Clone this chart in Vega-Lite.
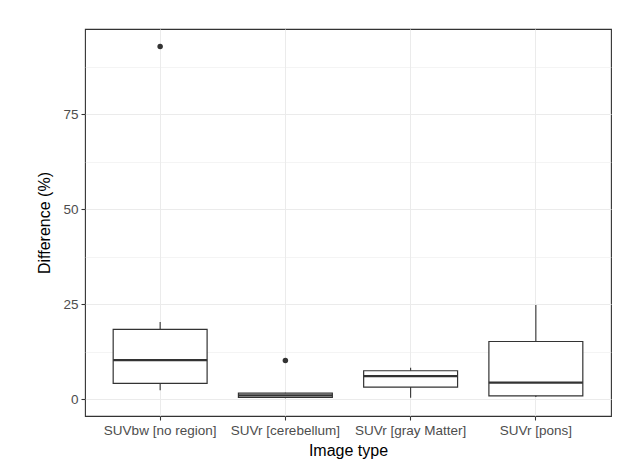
{
  "$schema": "https://vega.github.io/schema/vega-lite/v6.json",
  "autosize": "none",
  "padding": {"left": 85, "top": 29, "right": 13, "bottom": 45},
  "width": 526,
  "height": 387,
  "background": "white",
  "datasets": {
    "boxes": [
      {"type": "SUVbw [no region]", "lower": 2.4, "q1": 4.2, "median": 10.3, "q3": 18.4, "upper": 20.3},
      {"type": "SUVr [cerebellum]", "lower": 0.3, "q1": 0.5, "median": 1.0, "q3": 1.6, "upper": 1.7},
      {"type": "SUVr [gray Matter]", "lower": 0.4, "q1": 3.2, "median": 6.1, "q3": 7.5, "upper": 8.3},
      {"type": "SUVr [pons]", "lower": 0.6, "q1": 0.9, "median": 4.4, "q3": 15.2, "upper": 24.8}
    ],
    "outliers": [
      {"type": "SUVbw [no region]", "value": 92.8},
      {"type": "SUVr [cerebellum]", "value": 10.2}
    ]
  },
  "encoding": {
    "x": {
      "field": "type", "type": "nominal", "sort": null,
      "scale": {"domain": ["SUVbw [no region]", "SUVr [cerebellum]", "SUVr [gray Matter]", "SUVr [pons]"], "paddingInner": 0.25, "paddingOuter": 0.225},
      "axis": {"title": "Image type", "labelAngle": 0, "grid": true, "bandPosition": 0.5, "gridWidth": 1.07, "labelPadding": 3, "titlePadding": 6}
    }
  },
  "layer": [
    {
      "data": {"name": "boxes"},
      "mark": {"type": "rule", "color": "#333333", "strokeWidth": 1.1},
      "encoding": {
        "y": {
          "field": "lower", "type": "quantitative",
          "scale": {"domain": [-4.4, 97.4], "nice": false, "zero": false},
          "axis": {
            "title": "Difference (%)",
            "values": [0, 12.5, 25, 37.5, 50, 62.5, 75, 87.5],
            "labelExpr": "datum.value % 25 === 0 ? datum.label : ''",
            "grid": true,
            "gridWidth": {"condition": {"test": "datum.value % 25 === 0", "value": 1.07}, "value": 0.55},
            "tickOpacity": {"condition": {"test": "datum.value % 25 === 0", "value": 1}, "value": 0},
            "labelPadding": 3,
            "titlePadding": 10
          }
        },
        "y2": {"field": "upper"}
      }
    },
    {
      "data": {"name": "boxes"},
      "mark": {"type": "bar", "fill": "white", "stroke": "#333333", "strokeWidth": 1.2},
      "encoding": {
        "y": {"field": "q1", "type": "quantitative"},
        "y2": {"field": "q3"}
      }
    },
    {
      "data": {"name": "boxes"},
      "mark": {"type": "tick", "color": "#333333", "size": 94, "thickness": 2.2, "opacity": 1},
      "encoding": {
        "y": {"field": "median", "type": "quantitative"}
      }
    },
    {
      "data": {"name": "outliers"},
      "mark": {"type": "point", "filled": true, "color": "#333333", "size": 30, "opacity": 1},
      "encoding": {
        "y": {"field": "value", "type": "quantitative"}
      }
    }
  ],
  "config": {
    "view": {"stroke": "#333333", "strokeWidth": 1.1},
    "axis": {
      "labelFont": "Liberation Sans", "titleFont": "Liberation Sans",
      "labelFontSize": 13.5, "titleFontSize": 16, "titleFontWeight": "normal",
      "labelColor": "#4D4D4D", "titleColor": "#000000",
      "tickColor": "#333333", "tickSize": 4, "tickWidth": 1.07,
      "domain": false, "gridColor": "#EBEBEB"
    }
  }
}
